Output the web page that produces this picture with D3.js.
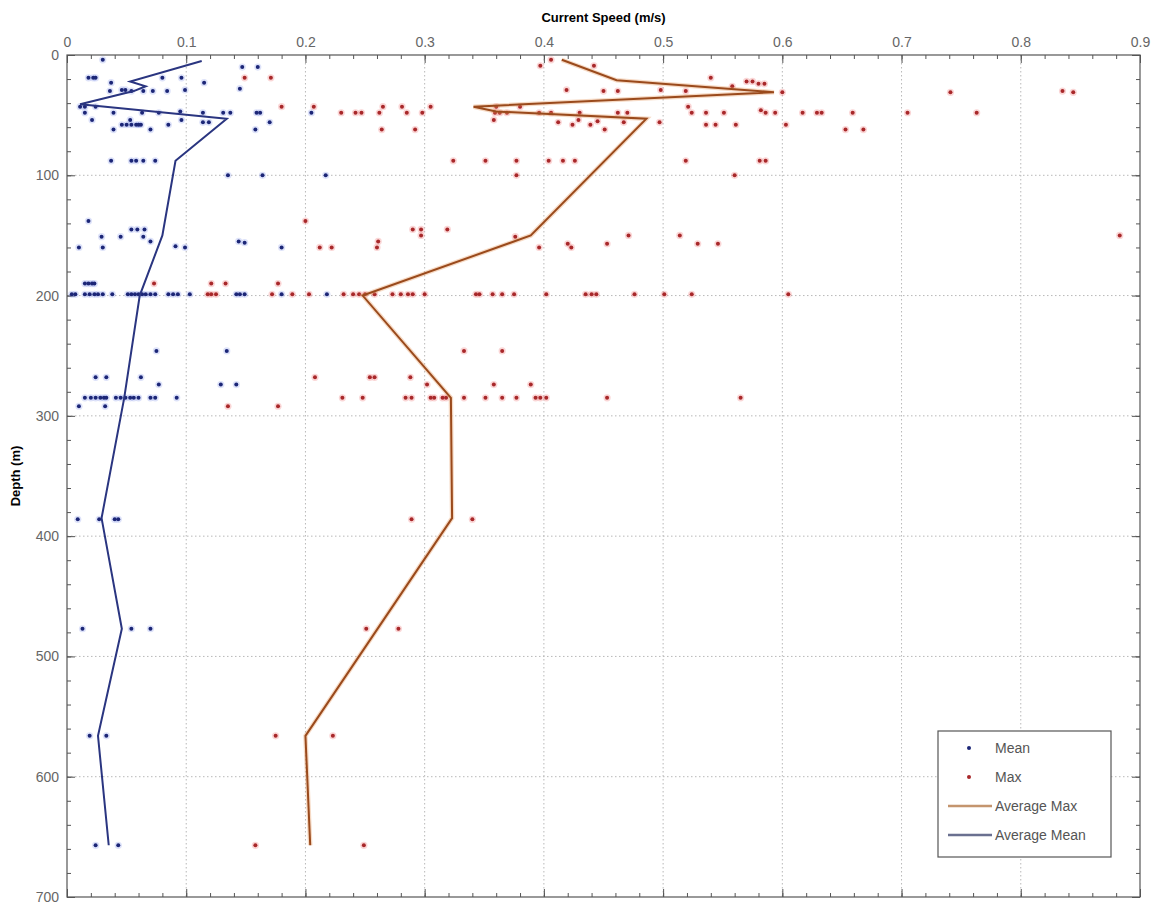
<!DOCTYPE html>
<html>
<head>
<meta charset="utf-8">
<script src="https://cdn.jsdelivr.net/npm/d3@7"></script>
<style>
  body { margin: 0; background: #fff; }
  svg { font-family: "Liberation Sans", Arial, sans-serif; }
  .tick text { fill: #666; font-size: 14px; }
  .domain { stroke: none; }
</style>
</head>
<body>
<svg id="chart" width="1158" height="907"></svg>
<script>
// Tick values
var xTicks = [0, 0.1, 0.2, 0.3, 0.4, 0.5, 0.6, 0.7, 0.8, 0.9];
var yTicks = [0, 100, 200, 300, 400, 500, 600, 700];

// Mean speed points, [speed m/s, depth m]
var meanPoints = [
  [0.030, 4], [0.147, 10], [0.160, 10],
  [0.018, 19], [0.022, 19], [0.024, 19], [0.080, 19], [0.096, 19],
  [0.037, 23], [0.115, 23], [0.145, 28],
  [0.036, 30], [0.046, 29], [0.049, 29], [0.054, 30], [0.064, 30], [0.072, 30], [0.084, 30], [0.099, 29],
  [0.011, 43], [0.015, 43], [0.024, 43],
  [0.015, 48], [0.039, 48], [0.063, 48], [0.077, 48], [0.095, 47], [0.114, 48], [0.131, 48], [0.137, 48],
  [0.159, 48], [0.162, 48], [0.205, 48],
  [0.021, 54], [0.053, 54], [0.096, 54], [0.114, 56], [0.119, 56], [0.170, 56],
  [0.046, 58], [0.050, 58], [0.054, 58], [0.058, 58], [0.060, 58], [0.062, 58], [0.085, 58],
  [0.039, 62], [0.070, 62], [0.158, 62],
  [0.037, 88], [0.054, 88], [0.058, 88], [0.064, 88], [0.074, 88],
  [0.135, 100], [0.164, 100], [0.217, 100],
  [0.018, 138], [0.054, 145], [0.059, 145], [0.065, 145],
  [0.029, 151], [0.045, 151], [0.064, 151], [0.070, 155], [0.144, 155], [0.149, 156],
  [0.010, 160], [0.030, 160], [0.091, 159], [0.099, 160], [0.180, 160],
  [0.015, 190], [0.018, 190], [0.021, 190], [0.023, 190],
  [0.004, 199], [0.007, 199], [0.015, 199], [0.019, 199], [0.023, 199], [0.026, 199], [0.030, 199], [0.038, 199],
  [0.051, 199], [0.054, 199], [0.057, 199], [0.060, 199], [0.063, 199], [0.066, 199], [0.070, 199], [0.074, 199],
  [0.085, 199], [0.089, 199], [0.093, 199], [0.103, 199], [0.142, 199], [0.145, 199], [0.149, 199],
  [0.180, 199], [0.218, 199],
  [0.075, 246], [0.134, 246], [0.024, 268], [0.033, 268], [0.062, 268],
  [0.077, 274], [0.129, 274], [0.142, 274],
  [0.015, 285], [0.020, 285], [0.024, 285], [0.028, 285], [0.031, 285], [0.033, 285], [0.041, 285], [0.045, 285],
  [0.049, 285], [0.053, 285], [0.056, 285], [0.060, 285], [0.070, 285], [0.074, 285], [0.092, 285],
  [0.010, 292], [0.032, 292],
  [0.009, 386], [0.027, 386], [0.040, 386], [0.043, 386],
  [0.013, 477], [0.054, 477], [0.070, 477],
  [0.019, 566], [0.033, 566],
  [0.024, 657], [0.043, 657]
];

// Max speed points, [speed m/s, depth m]
var maxPoints = [
  [0.406, 4], [0.397, 9], [0.442, 9],
  [0.149, 19], [0.171, 19], [0.540, 19], [0.570, 22], [0.575, 22], [0.580, 24], [0.585, 24], [0.558, 26],
  [0.419, 29], [0.498, 29], [0.450, 30], [0.462, 30], [0.519, 30],
  [0.600, 31], [0.741, 31], [0.835, 30], [0.844, 31],
  [0.180, 43], [0.207, 43], [0.265, 43], [0.281, 43], [0.305, 43], [0.360, 43], [0.380, 43], [0.521, 43],
  [0.230, 48], [0.242, 48], [0.247, 48], [0.262, 48], [0.285, 48], [0.298, 48], [0.359, 48], [0.363, 48],
  [0.369, 48], [0.396, 48], [0.406, 48], [0.430, 48], [0.462, 48], [0.470, 48], [0.524, 48], [0.536, 48],
  [0.551, 48], [0.582, 46], [0.586, 48], [0.594, 48], [0.617, 48], [0.629, 48], [0.633, 48], [0.659, 48],
  [0.705, 48], [0.763, 48],
  [0.358, 54], [0.429, 54], [0.445, 55], [0.412, 56], [0.467, 56], [0.497, 56],
  [0.424, 58], [0.439, 58], [0.536, 58], [0.544, 58], [0.561, 58], [0.603, 58],
  [0.264, 62], [0.292, 62], [0.451, 62], [0.653, 62], [0.668, 62],
  [0.324, 88], [0.351, 88], [0.377, 88], [0.404, 88], [0.416, 88], [0.426, 88], [0.519, 88], [0.581, 88], [0.586, 88],
  [0.377, 100], [0.560, 100],
  [0.200, 138], [0.290, 145], [0.297, 145], [0.319, 145],
  [0.297, 150], [0.376, 151], [0.471, 150], [0.514, 150], [0.883, 150], [0.261, 155],
  [0.420, 157], [0.453, 157], [0.529, 157], [0.546, 157],
  [0.212, 160], [0.222, 160], [0.260, 160], [0.396, 160], [0.423, 160],
  [0.073, 190], [0.121, 190], [0.133, 190], [0.177, 190],
  [0.118, 199], [0.121, 199], [0.125, 199], [0.172, 199], [0.189, 199], [0.203, 199], [0.232, 199], [0.240, 199],
  [0.245, 199], [0.250, 199], [0.258, 199], [0.273, 199], [0.280, 199], [0.286, 199], [0.290, 199], [0.300, 199],
  [0.343, 199], [0.346, 199], [0.357, 199], [0.365, 199], [0.375, 199], [0.402, 199], [0.435, 199], [0.440, 199],
  [0.444, 199], [0.476, 199], [0.501, 199], [0.524, 199], [0.605, 199],
  [0.333, 246], [0.365, 246],
  [0.208, 268], [0.254, 268], [0.258, 268], [0.288, 268], [0.302, 274], [0.358, 274], [0.389, 274],
  [0.231, 285], [0.248, 285], [0.284, 285], [0.289, 285], [0.305, 285], [0.308, 285], [0.315, 285], [0.318, 285],
  [0.333, 285], [0.351, 285], [0.365, 285], [0.377, 285], [0.393, 285], [0.397, 285], [0.402, 285],
  [0.453, 285], [0.565, 285],
  [0.135, 292], [0.177, 292],
  [0.289, 386], [0.340, 386],
  [0.251, 477], [0.278, 477],
  [0.175, 566], [0.223, 566],
  [0.158, 657], [0.249, 657]
];

// Averaged profiles
var avgMaxLine = [
  [0.415, 4], [0.461, 21], [0.593, 31], [0.341, 43], [0.360, 47], [0.486, 53],
  [0.389, 150], [0.248, 200], [0.322, 285], [0.323, 385], [0.200, 566], [0.204, 657]
];
var avgMeanLine = [
  [0.113, 5], [0.053, 22], [0.066, 26], [0.056, 30], [0.011, 41], [0.134, 53],
  [0.091, 88], [0.080, 150], [0.061, 200], [0.048, 285], [0.029, 385], [0.046, 477],
  [0.026, 566], [0.035, 657]
];

var legendItems = ["Mean", "Max", "Average Max", "Average Mean"];

var blue = "#1c2677", red = "#a8282a", brown = "#9a4a1c", navy = "#2a3580";

var svg = d3.select("#chart");
var plotLeft = 67, plotRight = 1140, plotTop = 55, plotBottom = 897;

var x = d3.scaleLinear().domain([0, 0.9]).range([plotLeft, plotRight]);
var y = d3.scaleLinear().domain([0, 700]).range([plotTop, plotBottom]);

//Grid lines
var grid = svg.append("g").attr("stroke", "#b8b8b8").attr("stroke-dasharray", "1.5,2.5");
grid.selectAll(".gx").data(xTicks.slice(1, -1)).enter().append("line")
    .attr("x1", d => x(d)).attr("x2", d => x(d)).attr("y1", plotTop).attr("y2", plotBottom);
grid.selectAll(".gy").data(yTicks.slice(1, -1)).enter().append("line")
    .attr("y1", d => y(d)).attr("y2", d => y(d)).attr("x1", plotLeft).attr("x2", plotRight);

//Minor ticks
var xMinor = d3.range(0, 0.9001, 0.02);
var yMinor = d3.range(0, 700.01, 20);

function addAxis(axis, tx, ty, values, size, labels) {
    var g = svg.append("g").attr("transform", "translate(" + tx + "," + ty + ")")
        .call(axis.tickValues(values).tickSize(size).tickPadding(8)
            .tickFormat(labels ? d3.format("") : ""));
    g.selectAll(".tick line").attr("stroke", "#555");
    return g;
}
addAxis(d3.axisTop(x), 0, plotTop, xMinor, -4, false);
addAxis(d3.axisBottom(x), 0, plotBottom, xMinor, -4, false);
addAxis(d3.axisLeft(y), plotLeft, 0, yMinor, -4, false);
addAxis(d3.axisRight(y), plotRight, 0, yMinor, -4, false);
addAxis(d3.axisTop(x), 0, plotTop, xTicks, -8, true);
addAxis(d3.axisBottom(x), 0, plotBottom, xTicks, -8, false);
addAxis(d3.axisLeft(y), plotLeft, 0, yTicks, -8, true);
addAxis(d3.axisRight(y), plotRight, 0, yTicks, -8, false);

//Frame
svg.append("rect").attr("x", plotLeft).attr("y", plotTop)
    .attr("width", plotRight - plotLeft).attr("height", plotBottom - plotTop)
    .attr("fill", "none").attr("stroke", "#555").attr("stroke-width", 1.2);

//Titles
svg.append("text").attr("x", (plotLeft + plotRight) / 2).attr("y", 22)
    .attr("text-anchor", "middle").attr("font-weight", "bold").attr("font-size", 13)
    .text("Current Speed (m/s)");
svg.append("text").attr("transform", "translate(20," + ((plotTop + plotBottom) / 2) + ") rotate(-90)")
    .attr("text-anchor", "middle").attr("font-weight", "bold").attr("font-size", 13)
    .text("Depth (m)");

//Scatter points
function dots(data, fill, halo) {
    var g = svg.append("g");
    g.selectAll("circle.h").data(data).enter().append("circle")
        .attr("cx", d => x(d[0])).attr("cy", d => y(d[1])).attr("r", 3.6)
        .attr("fill", halo);
    g.selectAll("circle.c").data(data).enter().append("circle")
        .attr("cx", d => x(d[0])).attr("cy", d => y(d[1])).attr("r", 2)
        .attr("fill", fill);
}
dots(meanPoints, blue, "rgba(120,140,230,0.25)");
dots(maxPoints, red, "rgba(240,120,120,0.3)");

//Average lines
var line = d3.line().x(d => x(d[0])).y(d => y(d[1]));
svg.append("path").datum(avgMaxLine).attr("d", line)
    .attr("fill", "none").attr("stroke", "rgba(230,150,90,0.35)").attr("stroke-width", 4.5);
svg.append("path").datum(avgMaxLine).attr("d", line)
    .attr("fill", "none").attr("stroke", brown).attr("stroke-width", 2);
svg.append("path").datum(avgMeanLine).attr("d", line)
    .attr("fill", "none").attr("stroke", navy).attr("stroke-width", 2);

//Legend
var lg = svg.append("g").attr("transform", "translate(938,731)");
lg.append("rect").attr("width", 173).attr("height", 126)
    .attr("fill", "#fff").attr("stroke", "#555").attr("stroke-width", 1.2);
lg.selectAll("text").data(legendItems).enter().append("text")
    .attr("x", 57).attr("y", (d, i) => 22 + i * 29)
    .attr("font-size", 14).attr("fill", "#555").text(d => d);
lg.append("circle").attr("cx", 31).attr("cy", 17).attr("r", 2).attr("fill", blue);
lg.append("circle").attr("cx", 31).attr("cy", 46).attr("r", 2).attr("fill", red);
lg.append("line").attr("x1", 10).attr("x2", 54).attr("y1", 75).attr("y2", 75)
    .attr("stroke", "#c4956e").attr("stroke-width", 2.5);
lg.append("line").attr("x1", 10).attr("x2", 54).attr("y1", 104).attr("y2", 104)
    .attr("stroke", "#6a7090").attr("stroke-width", 2.5);
</script>
</body>
</html>
